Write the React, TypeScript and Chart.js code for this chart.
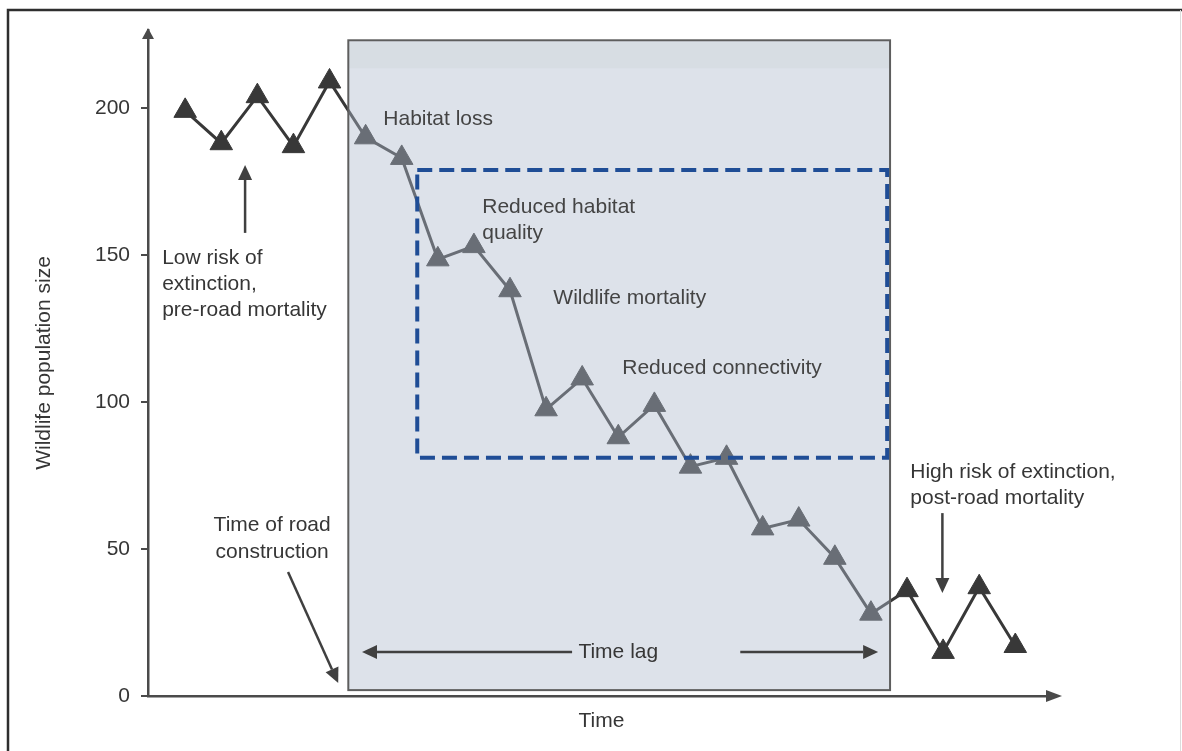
import React, { useEffect, useRef } from 'react';
import { Chart, registerables } from 'chart.js';

Chart.register(...registerables);

// ---- data ----
const timeSteps = [1, 2, 3, 4, 5, 6, 7, 8, 9, 10, 11, 12, 13, 14, 15, 16, 17, 18, 19, 20, 21, 22, 23, 24];
const populationSize = [199, 188, 204, 187, 209, 190, 183, 148.5, 153, 138, 97.5, 108, 88, 99, 78, 81, 57, 60, 47, 28, 36, 15, 37, 17];
const yTickValues = [0, 50, 100, 150, 200];
const yAxisTitle = 'Wildlife population size';
const xAxisTitle = 'Time';

const FONT = '21px "Liberation Sans", Arial, Helvetica, sans-serif';
const TEXT = '#363636';
const LINE = '#383838';

function arrow(ctx: CanvasRenderingContext2D, x1: number, y1: number, x2: number, y2: number) {
  const ang = Math.atan2(y2 - y1, x2 - x1);
  const L = 15, W = 7;
  const bx = x2 - Math.cos(ang) * L;
  const by = y2 - Math.sin(ang) * L;
  ctx.beginPath();
  ctx.moveTo(x1, y1);
  ctx.lineTo(bx, by);
  ctx.stroke();
  ctx.beginPath();
  ctx.moveTo(x2, y2);
  ctx.lineTo(bx + Math.sin(ang) * W, by - Math.cos(ang) * W);
  ctx.lineTo(bx - Math.sin(ang) * W, by + Math.cos(ang) * W);
  ctx.closePath();
  ctx.fill();
}

const figurePlugin = {
  id: 'figure',
  beforeDraw(chart: any) {
    const { ctx, width, height } = chart;
    ctx.save();
    ctx.fillStyle = '#ffffff';
    ctx.fillRect(0, 0, width, height);
    ctx.strokeStyle = '#2e2e2e';
    ctx.lineWidth = 2.5;
    ctx.beginPath();
    ctx.moveTo(8, height);
    ctx.lineTo(8, 10);
    ctx.lineTo(width, 10);
    ctx.stroke();
    ctx.strokeStyle = '#dcdcdc';
    ctx.lineWidth = 1;
    ctx.beginPath();
    ctx.moveTo(1180.5, 10);
    ctx.lineTo(1180.5, height);
    ctx.stroke();
    ctx.restore();
  },
  afterDatasetsDraw(chart: any) {
    const { ctx } = chart;
    const xs = chart.scales.x;
    const ys = chart.scales.y;
    const px = (t: number) => xs.getPixelForValue(t);
    const py = (v: number) => ys.getPixelForValue(v);
    ctx.save();

    // shaded time-lag box (semi-transparent overlay)
    const bx1 = px(5.52), bx2 = px(20.53), by1 = py(223), by2 = py(2);
    ctx.fillStyle = 'rgba(173,185,205,0.42)';
    ctx.fillRect(bx1, by1, bx2 - bx1, by2 - by1);
    ctx.fillStyle = 'rgba(150,168,150,0.08)';
    ctx.fillRect(bx1, by1 + 2, bx2 - bx1, 26);
    ctx.strokeStyle = '#5e5e5e';
    ctx.lineWidth = 2;
    ctx.strokeRect(bx1, by1, bx2 - bx1, by2 - by1);

    // dashed rectangle
    const dx1 = px(7.43), dx2 = px(20.45), dy1 = py(178.9), dy2 = py(81);
    ctx.strokeStyle = '#1f4d96';
    ctx.lineWidth = 4;
    ctx.setLineDash([15, 7]);
    ctx.strokeRect(dx1, dy1, dx2 - dx1, dy2 - dy1);
    ctx.setLineDash([]);

    // texts
    ctx.font = FONT;
    ctx.textBaseline = 'middle';
    ctx.fillStyle = TEXT;
    ctx.textAlign = 'left';
    const lowX = px(0.363), lowY = py(149);
    ['Low risk of', 'extinction,', 'pre-road mortality'].forEach((s, i) => ctx.fillText(s, lowX, lowY + i * 26));
    const hiX = px(21.09), hiY = py(76.2);
    ['High risk of extinction,', 'post-road mortality'].forEach((s, i) => ctx.fillText(s, hiX, hiY + i * 26));
    ctx.textAlign = 'center';
    const rcX = px(3.41), rcY = py(58.2);
    ['Time of road', 'construction'].forEach((s, i) => ctx.fillText(s, rcX, rcY + i * 27));

    ctx.fillStyle = '#444444';
    ctx.textAlign = 'left';
    ctx.fillText('Habitat loss', px(6.49), py(196));
    ['Reduced habitat', 'quality'].forEach((s, i) => ctx.fillText(s, px(9.23), py(166.3) + i * 26));
    ctx.fillText('Wildlife mortality', px(11.2), py(135.4));
    ctx.fillText('Reduced connectivity', px(13.11), py(111.6));
    ctx.textAlign = 'center';
    ctx.fillStyle = TEXT;
    ctx.fillText('Time lag', px(13.0), py(15));

    // arrows
    ctx.strokeStyle = '#404040';
    ctx.fillStyle = '#404040';
    ctx.lineWidth = 2.5;
    arrow(ctx, px(11.72), py(15), px(5.9), py(15));
    arrow(ctx, px(16.38), py(15), px(20.2), py(15));
    arrow(ctx, px(2.66), py(157.5), px(2.66), py(180.6));
    arrow(ctx, px(3.85), py(42.2), px(5.24), py(4.4));
    arrow(ctx, px(21.98), py(62.2), px(21.98), py(35));

    // axis arrow heads
    const { left, top, right, bottom } = chart.chartArea;
    ctx.fillStyle = '#4a4a4a';
    ctx.beginPath();
    ctx.moveTo(left, top - 2);
    ctx.lineTo(left - 6, top + 9);
    ctx.lineTo(left + 6, top + 9);
    ctx.closePath();
    ctx.fill();
    ctx.beginPath();
    ctx.moveTo(right + 7, bottom);
    ctx.lineTo(right - 9, bottom - 6);
    ctx.lineTo(right - 9, bottom + 6);
    ctx.closePath();
    ctx.fill();
    ctx.restore();
  },
};

export default function App() {
  const canvasRef = useRef<HTMLCanvasElement | null>(null);

  useEffect(() => {
    if (!canvasRef.current) return;
    const chart = new Chart(canvasRef.current, {
      type: 'line',
      data: {
        datasets: [
          {
            data: timeSteps.map((t, i) => ({ x: t, y: populationSize[i] })),
            borderColor: LINE,
            borderWidth: 3,
            pointStyle: 'triangle',
            pointRadius: 13,
            pointBackgroundColor: LINE,
            pointBorderColor: LINE,
            pointBorderWidth: 1,
            tension: 0,
            clip: false as any,
          },
        ],
      },
      options: {
        animation: false,
        responsive: false,
        devicePixelRatio: 1,
        layout: { padding: { left: 0, top: 30, right: 127, bottom: 0 } },
        plugins: { legend: { display: false }, tooltip: { enabled: false } },
        scales: {
          x: {
            type: 'linear',
            min: -0.03,
            max: 25.1,
            grid: { display: false },
            ticks: { display: false },
            border: { display: true, color: '#4a4a4a', width: 2.5 },
            title: {
              display: true,
              text: xAxisTitle,
              color: TEXT,
              font: { family: '"Liberation Sans", Arial, sans-serif', size: 21 },
              padding: { top: 0, bottom: 17 },
            },
            afterFit: (s: any) => {
              s.height = 55;
            },
          },
          y: {
            type: 'linear',
            min: 0,
            max: 226.5,
            afterBuildTicks: (s: any) => {
              s.ticks = yTickValues.map((v) => ({ value: v }));
            },
            grid: { display: true, drawOnChartArea: false, drawTicks: true, tickLength: 7, color: '#4a4a4a', lineWidth: 2 },
            border: { display: true, color: '#4a4a4a', width: 2.5 },
            ticks: {
              color: TEXT,
              padding: 11,
              font: { family: '"Liberation Sans", Arial, sans-serif', size: 21 },
            },
            title: {
              display: true,
              text: yAxisTitle,
              color: TEXT,
              font: { family: '"Liberation Sans", Arial, sans-serif', size: 21 },
              padding: { top: 32, bottom: 0 },
            },
            afterFit: (s: any) => {
              s.width = 148;
            },
          },
        },
      },
      plugins: [figurePlugin],
    });
    return () => chart.destroy();
  }, []);

  return (
    <div style={{ position: 'absolute', left: 0, top: 0, width: 1182, height: 751 }}>
      <canvas ref={canvasRef} width={1182} height={751} />
    </div>
  );
}
